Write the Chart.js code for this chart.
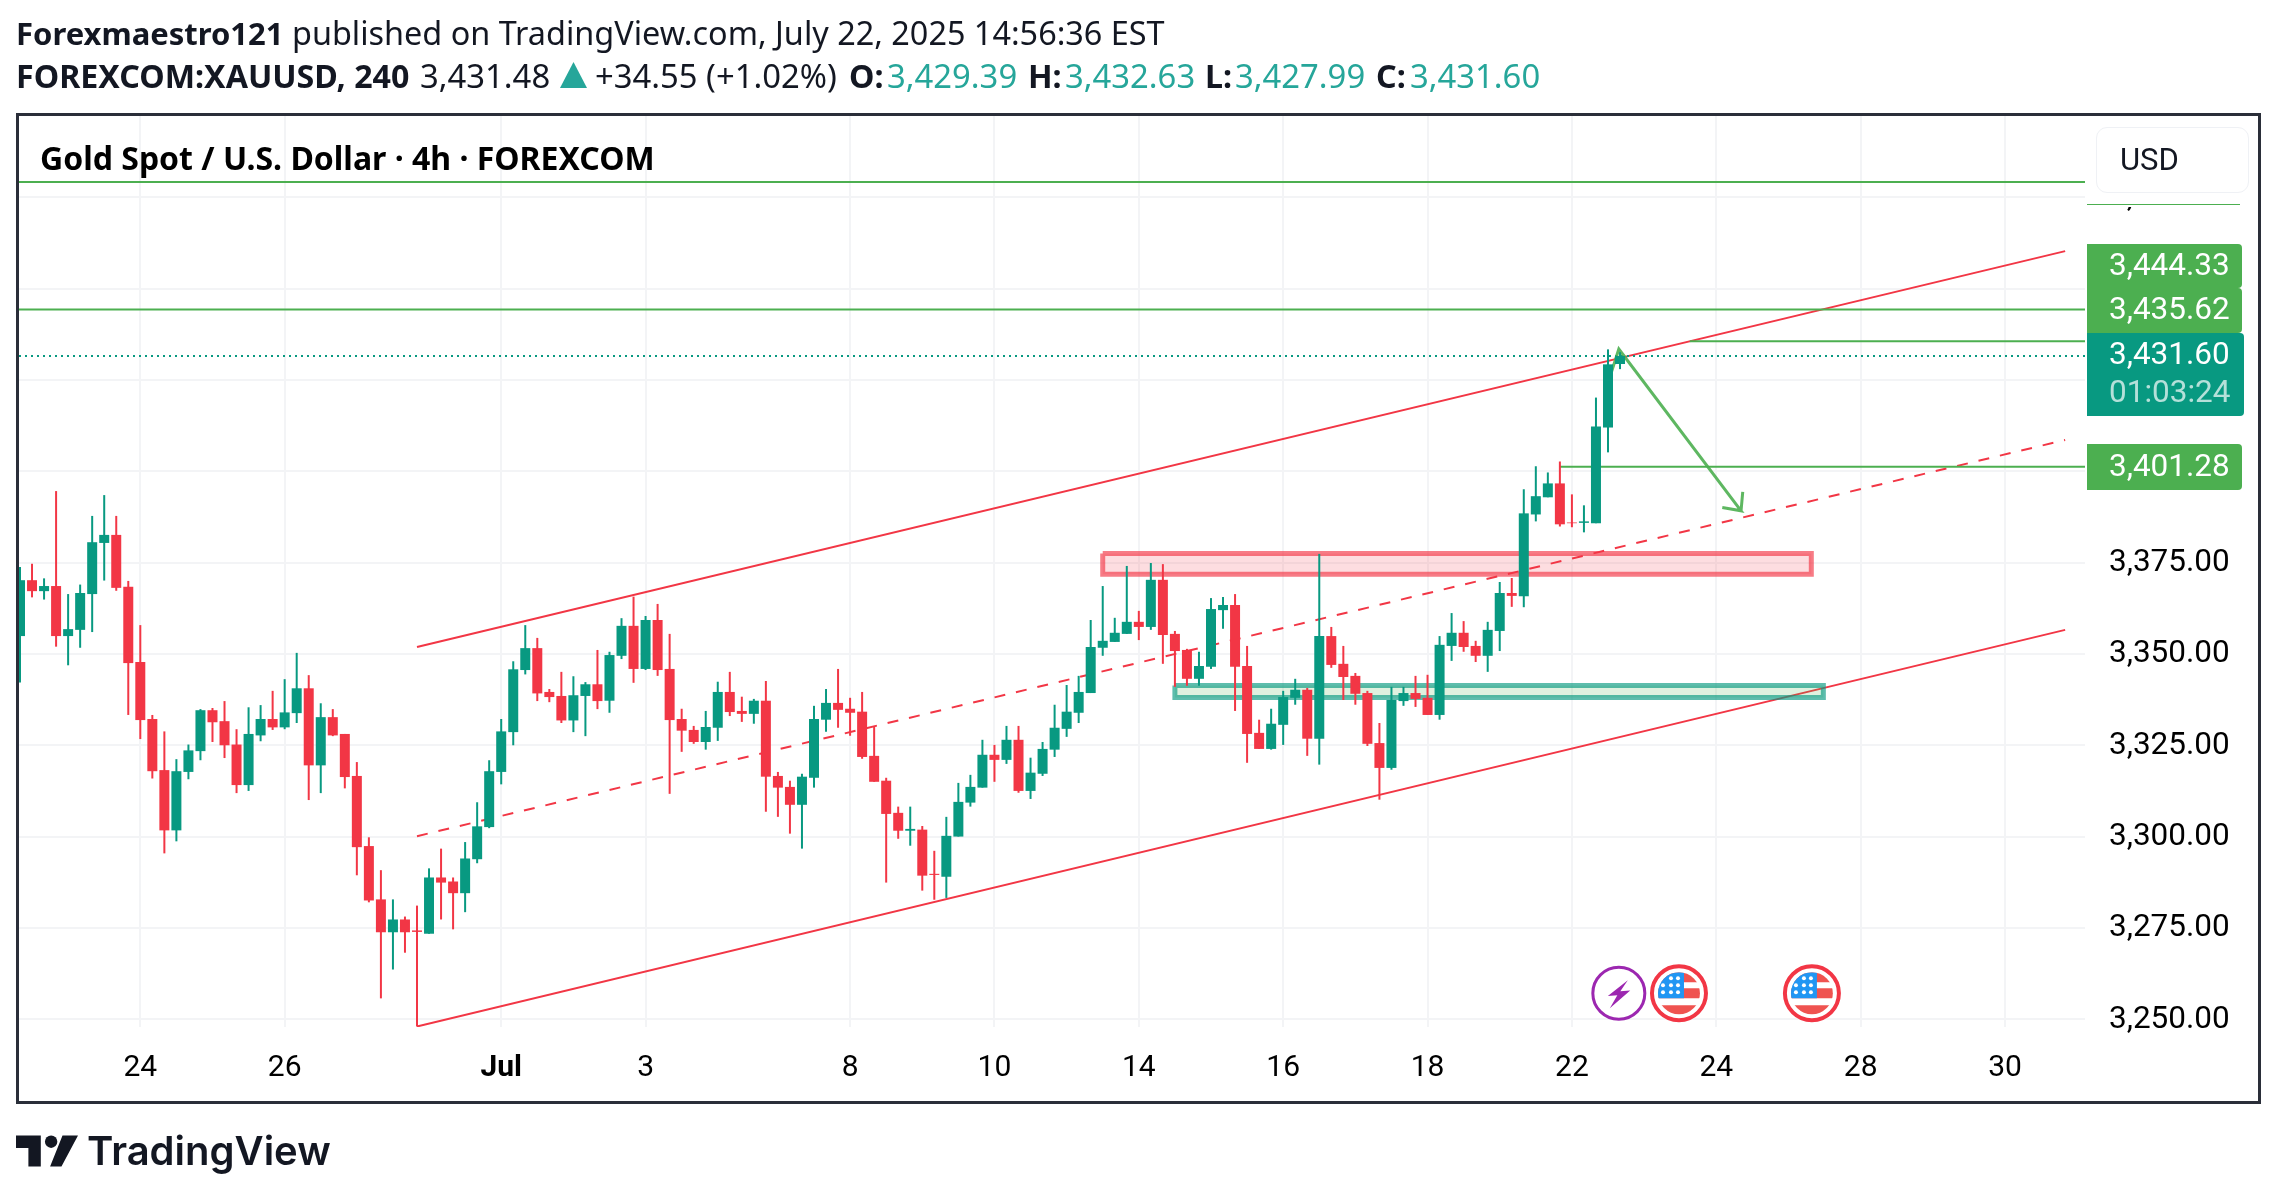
<!DOCTYPE html>
<html>
<head>
<meta charset="utf-8">
<title>XAUUSD 4h</title>
<script src="https://cdn.jsdelivr.net/npm/chart.js@4/dist/chart.umd.min.js"></script>
<style>
  html, body { margin: 0; padding: 0; background: #fff; }
  body { width: 2277px; height: 1199px; position: relative; overflow: hidden; color: #131722; }
  canvas { position: absolute; left: 0; top: 0; }
  .abs { position: absolute; white-space: nowrap; }
  .head { font-family: "Noto Sans", sans-serif; font-size: 32.4px; line-height: 40px; }
  .l2 { font-size: 32.8px; top: 56px; }
  b.abs, .l2 b { font-weight: 700; font-size: 32.2px; }
  .up { color: #26a69a; }
  #frame { left: 16px; top: 113px; width: 2239px; height: 985px; border: 3px solid #2a2e39; }
  #title { left: 40px; top: 137px; font: 700 32px/42px "Noto Sans", sans-serif; color: #000; }
  #mask { left: 2086px; top: 117px; width: 172px; height: 90px; background: #fff; }
  #maskline { left: 2087px; top: 204px; width: 153px; height: 1px; background: #4caf50; }
  #usd { left: 2096px; top: 127px; width: 151px; height: 64px; border: 1px solid #eff1f5; border-radius: 11px; background: #fff; font: 31px/64px Roboto, sans-serif; text-indent: 23px; color: #131722; }
  .tag { left: 2087px; width: 133px; padding-left: 22px; color: #fff; font: 31.5px/42px Roboto, sans-serif; background: #4caf50; border-radius: 0 4px 4px 0; }
  #logo { left: 16px; top: 1135px; }
  #brand { left: 87px; top: 1126px; font: 600 40px/50px Inter, sans-serif; color: #131722; }
</style>
</head>
<body>
<canvas id="chart" width="2277" height="1199"></canvas>

<div class="abs head" style="left:16px;top:12px"><b style="font-size:31px">Forexmaestro121</b> published on TradingView.com, July 22, 2025 14:56:36 EST</div>
<div class="abs head l2" style="left:16px"><b>FOREXCOM:XAUUSD, 240</b></div>
<div class="abs head l2" style="left:420px">3,431.48</div>
<svg class="abs" style="left:560px;top:62px" width="27" height="26"><path d="M13.5 0L27 26H0z" fill="#26a69a"/></svg>
<div class="abs head l2" style="left:595px">+34.55 (+1.02%)</div>
<div class="abs head l2" style="left:849px"><b>O:</b></div>
<div class="abs head l2 up" style="left:887px">3,429.39</div>
<div class="abs head l2" style="left:1028px"><b>H:</b></div>
<div class="abs head l2 up" style="left:1065px">3,432.63</div>
<div class="abs head l2" style="left:1205px"><b>L:</b></div>
<div class="abs head l2 up" style="left:1235px">3,427.99</div>
<div class="abs head l2" style="left:1376px"><b>C:</b></div>
<div class="abs head l2 up" style="left:1410px">3,431.60</div>

<div class="abs" id="frame"></div>
<div class="abs" id="title">Gold Spot / U.S. Dollar · 4h · FOREXCOM</div>
<div class="abs" id="mask"></div>
<div class="abs" id="maskline"></div>
<div class="abs" id="usd">USD</div>

<div class="abs tag" style="top:244px;height:44px">3,444.33</div>
<div class="abs tag" style="top:288px;height:45px">3,435.62</div>
<div class="abs tag" style="top:333px;height:83px;width:135px;background:#089981">3,431.60<div style="color:#b5e0d9;margin-top:-4px">01:03:24</div></div>
<div class="abs tag" style="top:444px;height:46px;line-height:43px">3,401.28</div>

<svg class="abs" id="logo" width="62" height="32" viewBox="0 0 60 30"><path d="M0 0H24V30H12V12H0z M60 0L44 30H33L45 0z" fill="#131722"/><circle cx="34" cy="6" r="6" fill="#131722"/></svg>
<div class="abs" id="brand">TradingView</div>

<script>
// candles, oldest first (4h, index 0 is the one cut by the left edge)
const opens = [3354.9,3370.2,3367.2,3368.6,3354.9,3356.6,3366.4,3380.4,3382.6,3368.4,3347.8,3332.2,3318.2,3301.7,3317.7,3323.4,3334.6,3331.6,3325.2,3314.1,
  3327.7,3332.2,3329.9,3333.8,3340.6,3319.5,3332.7,3328.1,3316.6,3297.4,3282.8,3273.8,3277.3,3274.3,3273.4,3288.8,3287.7,3284.5,3293.8,3302.6,
  3317.7,3328.6,3345.6,3351.6,3339.6,3338.5,3331.8,3338.5,3341.7,3337.2,3349.5,3357.7,3345.9,3359.3,3345.9,3332.2,3329.2,3325.9,3329.8,3339.6,
  3334.4,3333.6,3337.2,3316.6,3313.6,3308.7,3316.1,3332.0,3336.6,3335.0,3334.2,3322.1,3315.3,3306.5,3301.6,3301.9,3289.8,3289.0,3300.0,3309.3,
  3313.4,3322.4,3321.0,3326.5,3312.5,3317.2,3323.8,3329.5,3333.9,3339.3,3351.7,3353.3,3355.5,3358.8,3357.4,3370.3,3355.5,3351.1,3343.2,3346.5,
  3362.0,3363.4,3346.7,3328.4,3324.0,3330.6,3338.0,3340.2,3326.8,3354.9,3347.3,3344.0,3339.3,3325.6,3318.8,3337.1,3339.3,3338.0,3333.3,3352.2,
  3355.8,3352.2,3349.5,3356.3,3366.7,3365.8,3388.2,3392.9,3396.7,3386.0,3385.9,3385.8,3412.0,3429.39];
const highs = [3373.8,3374.7,3370.7,3394.6,3366.4,3369.0,3387.8,3393.5,3387.8,3370.0,3357.9,3333.3,3328.8,3321.2,3325.2,3334.9,3335.2,3337.1,3329.4,3335.4,
  3336.0,3339.9,3343.1,3350.3,3344.2,3336.5,3334.9,3328.1,3320.4,3299.8,3290.8,3282.8,3278.1,3281.1,3291.3,3296.7,3288.8,3298.5,3309.4,3320.9,
  3332.2,3348.0,3357.9,3354.4,3340.4,3345.1,3343.9,3342.3,3351.1,3350.6,3359.8,3365.7,3360.4,3363.7,3355.5,3335.0,3330.3,3334.4,3342.4,3345.1,
  3338.3,3337.7,3342.6,3317.7,3315.3,3317.2,3335.8,3340.4,3345.9,3338.0,3339.6,3330.0,3316.1,3308.2,3308.2,3302.9,3296.1,3305.4,3314.7,3316.9,
  3326.5,3325.1,3330.3,3330.3,3321.6,3325.9,3336.1,3341.5,3344.0,3359.3,3368.6,3359.9,3374.1,3361.8,3374.9,3374.6,3356.3,3351.4,3350.6,3365.3,
  3365.6,3366.4,3352.2,3332.0,3335.0,3339.9,3343.2,3340.7,3377.4,3357.4,3352.2,3344.8,3339.9,3331.1,3341.0,3341.0,3344.0,3344.3,3354.9,3361.2,
  3359.0,3353.6,3358.8,3369.7,3370.8,3395.1,3401.4,3399.7,3402.7,3393.7,3390.7,3420.2,3433.4,3432.63];
const lows = [3342.2,3365.5,3364.9,3352.0,3346.9,3351.7,3356.0,3370.1,3367.3,3333.3,3326.7,3315.9,3295.4,3298.7,3315.7,3320.9,3325.9,3321.5,3311.9,3312.5,
  3326.1,3329.2,3329.4,3331.1,3310.0,3311.9,3327.5,3313.2,3289.4,3282.0,3255.7,3263.6,3268.2,3248.0,3273.4,3277.3,3274.6,3279.3,3292.7,3302.3,
  3314.3,3325.0,3344.4,3337.1,3336.8,3331.1,3328.6,3327.5,3334.9,3333.9,3348.6,3342.1,3345.6,3344.0,3311.7,3323.2,3325.4,3323.8,3326.2,3333.0,
  3331.4,3330.9,3306.8,3305.4,3300.8,3296.7,3313.4,3328.7,3329.8,3327.6,3321.3,3315.0,3287.4,3299.4,3297.5,3285.2,3282.7,3283.2,3300.0,3308.2,
  3313.4,3315.0,3319.9,3312.0,3310.3,3316.6,3321.8,3327.3,3331.1,3339.3,3349.5,3353.3,3355.5,3353.8,3356.6,3347.3,3341.0,3341.3,3341.3,3345.9,
  3356.9,3334.4,3320.2,3324.0,3323.8,3325.1,3336.1,3322.1,3319.7,3346.2,3337.4,3336.1,3324.8,3310.1,3318.3,3335.8,3335.5,3333.3,3332.0,3348.1,
  3350.6,3347.8,3345.1,3350.8,3362.9,3362.8,3386.3,3392.9,3384.9,3384.7,3383.3,3385.8,3405.2,3427.99];
const closes = [3370.2,3367.2,3368.6,3354.9,3356.8,3366.7,3380.6,3382.6,3368.1,3347.5,3331.9,3317.9,3301.7,3317.9,3323.6,3334.6,3331.3,3325.0,3314.1,3328.1,
  3332.2,3329.9,3334.0,3340.6,3319.5,3332.7,3327.7,3316.3,3297.1,3282.5,3273.8,3277.3,3273.8,3273.9,3288.8,3287.4,3284.5,3294.0,3302.8,3317.9,
  3328.8,3345.8,3351.6,3339.2,3338.2,3331.8,3338.7,3341.7,3337.1,3349.7,3357.7,3345.9,3359.3,3345.6,3331.9,3329.0,3325.9,3330.0,3339.6,3334.1,
  3333.6,3337.2,3316.4,3313.4,3308.7,3316.4,3332.2,3336.6,3334.7,3333.9,3321.8,3315.0,3306.2,3301.6,3302.1,3289.3,3289.5,3300.2,3309.5,3313.6,
  3322.4,3321.0,3326.5,3312.5,3317.5,3324.0,3329.8,3334.2,3339.6,3351.9,3353.6,3355.8,3358.8,3357.4,3370.3,3355.2,3350.8,3343.2,3346.7,3362.3,
  3363.4,3346.5,3328.1,3324.0,3330.9,3338.2,3340.2,3326.8,3354.9,3347.0,3343.7,3339.1,3325.4,3318.8,3337.4,3339.3,3337.7,3333.3,3352.5,3355.8,
  3351.9,3349.5,3356.6,3366.7,3365.9,3388.5,3393.2,3396.7,3385.5,3385.8,3386.3,3412.3,3429.3,3431.60];

// axes
const tickCandles = [10,22,40,52,69,81,93,105,117,129,141,153,165];
const tickLabels = ['24','26','Jul','3','8','10','14','16','18','22','24','28','30'];
const priceTicks = [3250,3275,3300,3325,3350,3375,3400,3425,3450,3475];
const xMin = -0.083, xMax = 171.65;
const yMin = 3247.86, yMax = 3497.3;

// drawings on the chart
const channelCandles = [33,170];
const channelTop = [3351.9,3460.3];
const channelMid = [3300.1,3408.6];
const channelBottom = [3248.0,3356.6];
const levelPrices = [3479.2,3444.33,3435.62,3401.28];
const levelStarts = [xMin,xMin,138.8,128];
const arrowCandles = [132.3,132.9,143.06,141.5,143.06,143.2];
const arrowPrices = [3427.3,3433.5,3389.2,3390.1,3389.2,3394.4];
const redZoneCandles = [90,148.9];
const redZonePrices = [3377.5,3371.8];
const greenZoneCandles = [96,149.9];
const greenZonePrices = [3341.4,3338.1];
const boltCandle = 132.9;
const flagCandles = [137.9,148.95];
const iconPrice = 3257.1;

const GREEN = '#089981', RED = '#f23645', DRAW_GREEN = '#4caf50';

function pts(xs, ys) { return xs.map((x, i) => ({ x: x, y: ys[i] })); }

function lineSet(data, color, width, extra) {
  return Object.assign({ type: 'line', data: data, borderColor: color, borderWidth: width,
    pointRadius: 0, tension: 0, fill: false, order: 12 }, extra || {});
}

function zoneSet(xs, ys, stroke, fill) {
  const data = [{x:xs[0],y:ys[0]},{x:xs[1],y:ys[0]},{x:xs[1],y:ys[1]},{x:xs[0],y:ys[1]},{x:xs[0],y:ys[0]}];
  return lineSet(data, stroke, 5, { fill: 'shape', backgroundColor: fill, order: 5, borderJoinStyle: 'miter' });
}

const candleColors = closes.map((c, i) => c >= opens[i] ? GREEN : RED);
const wicks = highs.map((h, i) => ({ x: i, y: [lows[i], h] }));
const bodies = closes.map((c, i) => ({ x: i, y: [opens[i], c] }));

const datasets = [
  { label: 'body', data: bodies, backgroundColor: candleColors, barThickness: 10, grouped: false, order: 1, inflateAmount: 0 },
  { label: 'wick', data: wicks, backgroundColor: candleColors, barThickness: 2, grouped: false, order: 2, inflateAmount: 0 },
  lineSet(pts(channelCandles, channelTop), RED, 2),
  lineSet(pts(channelCandles, channelMid), RED, 2, { borderDash: [11, 11] }),
  lineSet(pts(channelCandles, channelBottom), RED, 2),
  lineSet(pts(arrowCandles, arrowPrices), 'rgba(76,175,80,0.9)', 3, { order: 6 }),
  lineSet([{x:xMin,y:closes[closes.length-1]},{x:xMax,y:closes[closes.length-1]}], GREEN, 2, { borderDash: [2, 4], order: 11 }),
  zoneSet(redZoneCandles, redZonePrices, 'rgba(242,54,69,0.65)', 'rgba(242,54,69,0.17)'),
  zoneSet(greenZoneCandles, greenZonePrices, 'rgba(8,153,129,0.65)', 'rgba(76,175,80,0.18)')
];
levelPrices.forEach((p, i) => {
  datasets.push(lineSet([{x:levelStarts[i],y:p},{x:xMax,y:p}], DRAW_GREEN, 2, { order: 11 }));
});

// event icons at the bottom of the pane
const eventIcons = {
  id: 'eventIcons',
  afterDatasetsDraw(chart) {
    const c = chart.ctx, xs = chart.scales.x, ys = chart.scales.y;
    const cy = ys.getPixelForValue(iconPrice);
    const bx = xs.getPixelForValue(boltCandle);
    c.save();
    c.strokeStyle = '#9c27b0'; c.lineWidth = 3;
    c.beginPath(); c.arc(bx, cy, 26, 0, Math.PI * 2); c.stroke();
    c.fillStyle = '#9c27b0';
    c.beginPath();
    [[9,-13],[-11,2.7],[-1.5,2],[-9,15],[11.4,-2.7],[1.5,-2]].forEach((p, i) => i ? c.lineTo(bx+p[0], cy+p[1]) : c.moveTo(bx+p[0], cy+p[1]));
    c.closePath(); c.fill();
    flagCandles.forEach(v => {
      const x = xs.getPixelForValue(v);
      c.save();
      c.fillStyle = '#fff'; c.strokeStyle = RED; c.lineWidth = 4;
      c.beginPath(); c.arc(x, cy, 27, 0, Math.PI * 2); c.fill(); c.stroke();
      c.beginPath(); c.arc(x, cy, 21, 0, Math.PI * 2); c.clip();
      c.fillStyle = '#fff'; c.fillRect(x-21, cy-21, 42, 42);
      c.fillStyle = '#ef5350';
      c.fillRect(x-21, cy-21, 42, 10); c.fillRect(x-21, cy-5, 42, 10); c.fillRect(x-21, cy+12, 42, 10);
      c.fillStyle = '#2196f3'; c.fillRect(x-21, cy-21, 26, 26);
      c.fillStyle = '#fff';
      [[-8,-15],[-1,-15],[-16,-8],[-8,-8],[-1,-8],[-16,-1],[-8,-1],[-1,-1]].forEach(s => {
        c.beginPath(); c.arc(x+s[0], cy+s[1], 2, 0, Math.PI * 2); c.fill();
      });
      c.restore();
    });
    c.restore();
  }
};

new Chart(document.getElementById('chart'), {
  type: 'bar',
  data: { datasets: datasets },
  plugins: [eventIcons],
  options: {
    responsive: false,
    animation: false,
    devicePixelRatio: 1,
    layout: { padding: { left: 19, right: 17, top: 116, bottom: 98 } },
    plugins: { legend: { display: false }, tooltip: { enabled: false }, title: { display: false } },
    scales: {
      x: {
        type: 'linear', min: xMin, max: xMax, offset: false,
        grid: { color: '#f3f4f6', lineWidth: 2, drawTicks: false, offset: false },
        border: { display: false },
        afterBuildTicks(axis) { axis.ticks = tickCandles.map(v => ({ value: v })); },
        afterFit(axis) { axis.height = 74; },
        ticks: {
          autoSkip: false, maxRotation: 0, padding: 23, color: '#000',
          font: ctx => ({ family: 'Roboto', size: 30, weight: tickLabels[ctx.index] === 'Jul' ? '700' : '400' }),
          callback: (v, i) => tickLabels[i]
        }
      },
      y: {
        position: 'right', min: yMin, max: yMax,
        grid: { color: '#f3f4f6', lineWidth: 2, drawTicks: false },
        border: { display: false },
        afterBuildTicks(axis) { axis.ticks = priceTicks.map(v => ({ value: v })); },
        afterFit(axis) { axis.width = 175; },
        ticks: {
          autoSkip: false, padding: 24, color: '#000', labelOffset: 0.6,
          font: { family: 'Roboto', size: 31.5 },
          callback: v => v.toLocaleString('en-US', { minimumFractionDigits: 2, maximumFractionDigits: 2 })
        }
      }
    }
  }
});
</script>
</body>
</html>
